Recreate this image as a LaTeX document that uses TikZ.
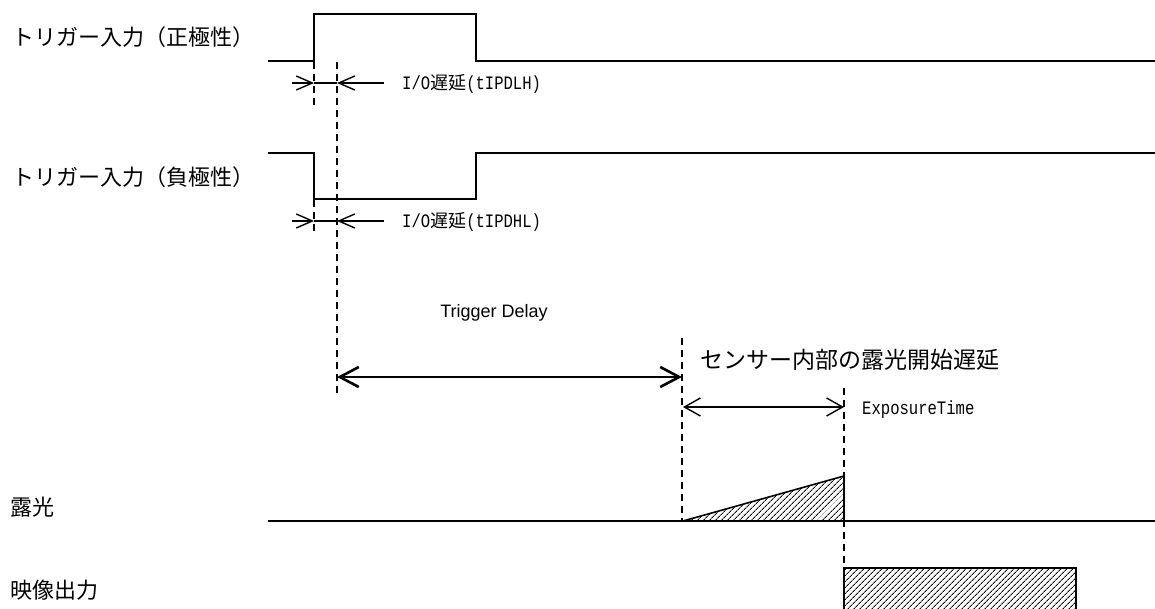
\documentclass[tikz,border=0pt]{standalone}
\usepackage{fontspec}
\newfontfamily\cjkf{Noto Sans CJK JP}
\newfontfamily\arialf{Liberation Sans}
\newfontfamily\monof{Liberation Mono}
\usetikzlibrary{arrows.meta,patterns.meta}
\newcommand\hwtext[1]{\scalebox{0.82}[1]{\fontsize{19}{21}\monof #1}}
\newcommand\ioText[1]{{\fontsize{18}{21}\cjkf\hwtext{I/O}遅延\hwtext{(#1)}}}
\begin{document}
\begin{tikzpicture}[x=1pt,y=-1pt,
  sig/.style={line width=2pt},
  dashv/.style={line width=1.4pt, dash pattern=on 7pt off 5pt},
  thinarr/.style={line width=1.4pt},
  barb/.style={-{Straight Barb[length=16pt,width=14pt]}},
  bigbarb/.style={{Straight Barb[length=19pt,width=20pt]}-{Straight Barb[length=19pt,width=20pt]}},
  midbarb/.style={{Straight Barb[length=16pt,width=18pt]}-{Straight Barb[length=16pt,width=18pt]}},
  hatch/.style={pattern={Lines[angle=45,distance=4pt,line width=0.9pt]}},
  lbl/.style={inner sep=0pt, anchor=west, font=\fontsize{22}{26}\cjkf},
  iolbl/.style={inner sep=0pt, anchor=west}
]
\useasboundingbox (0,0) rectangle (1155,609);

% ---- labels
\node[lbl] (l1) at (12,37) {トリガー入力（正極性）};
\node[lbl] (l2) at (12,177) {トリガー入力（負極性）};
\node[lbl] (l3) at (10,507) {露光};
\node[lbl] (l4) at (10,590) {映像出力};

% ---- positive polarity trigger
\draw[sig] (268,61) -- (314,61) -- (314,14) -- (476,14) -- (476,61) -- (1155,61);
% ---- negative polarity trigger
\draw[sig] (268,153) -- (314,153) -- (314,199) -- (476,199) -- (476,153) -- (1155,153);

% ---- dashed guide lines
\draw[dashv] (314,62) -- (314,110);
\draw[dashv] (314,200) -- (314,235);
\draw[dashv] (337,62) -- (337,395);
\draw[dashv] (682,338) -- (682,521);
\draw[dashv] (844,388) -- (844,568);

% ---- I/O delay (tIPDLH)
\coordinate (a1s) at (292,83);
\coordinate (a1l) at (314,83);
\coordinate (a1r) at (337,83);
\coordinate (a1e) at (384,83);
\draw[thinarr,barb] (a1s) -- (a1l);
\draw[thinarr] (a1l) -- (a1r);
\draw[thinarr,barb] (a1e) -- (a1r);
\node[iolbl] (io1) at (402,84) {\ioText{tIPDLH}};

% ---- I/O delay (tIPDHL)
\coordinate (a2s) at (292,221);
\coordinate (a2l) at (314,221);
\coordinate (a2r) at (337,221);
\coordinate (a2e) at (384,221);
\draw[thinarr,barb] (a2s) -- (a2l);
\draw[thinarr] (a2l) -- (a2r);
\draw[thinarr,barb] (a2e) -- (a2r);
\node[iolbl] (io2) at (402,222) {\ioText{tIPDHL}};

% ---- Trigger delay
\node[inner sep=0pt, font=\fontsize{18}{20}\arialf] (td) at (494,313) {Trigger Delay};
\coordinate (tdl) at (337,377);
\coordinate (tdr) at (682,377);
\draw[line width=2.6pt,bigbarb] (tdl) -- (tdr);

\node[inner sep=0pt, anchor=west, font=\fontsize{23}{26}\cjkf] (sen) at (700,360) {センサー内部の露光開始遅延};

% ---- Exposure time
\coordinate (etl) at (683,407);
\coordinate (etr) at (844,407);
\draw[thinarr,midbarb] (etl) -- (etr);
\node[inner sep=0pt, anchor=west] (et) at (862,410) {\hwtext{ExposureTime}};

% ---- exposure
\draw[sig] (268,521) -- (1155,521);
\draw[line width=1.6pt, hatch] (683,521) -- (844,476) -- (844,521) -- cycle;

% ---- video output
\fill[hatch] (844,568) rectangle (1076,609);
\draw[line width=1.6pt] (844,609) -- (844,568) -- (1076,568) -- (1076,609);
\end{tikzpicture}
\end{document}
